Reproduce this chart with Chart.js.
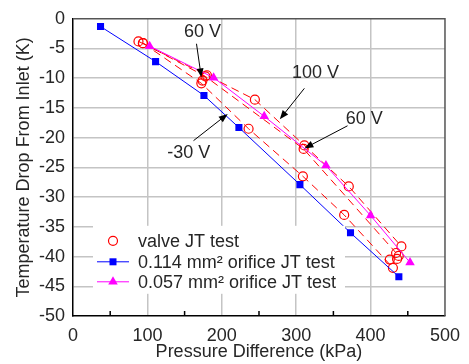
<!DOCTYPE html>
<html>
<head>
<meta charset="utf-8">
<script src="https://cdn.jsdelivr.net/npm/chart.js@4.4.0/dist/chart.umd.min.js"></script>
<style>
html, body { margin: 0; padding: 0; background: #fff; }
#wrap { width: 469px; height: 364px; }
</style>
</head>
<body>
<div id="wrap"><canvas id="jt"></canvas></div>
<script>
// valve JT test runs, [pressure difference kPa, temperature drop K]
const valveMinus30 = [[94,-4.1],[172.5,-10.85],[236,-18.5],[309,-26.5],[364.5,-33.0],[430,-41.9]];
const valve60 = [[94,-4.1],[178,-9.7],[310,-21.9],[434.3,-39.4]];
const valve100 = [[88,-3.8],[180,-9.5],[244.5,-13.6],[311,-21.3],[370.7,-28.2],[441.4,-38.3]];
const valveLoose = [[174,-10.4],[435.6,-40.4],[437.8,-39.9],[425.8,-40.5]];
// orifice tests
const orifice114 = [[37,-1.3],[111,-7.2],[176,-12.9],[223,-18.3],[305,-27.9],[373,-36.0],[438,-43.4]];
const orifice057 = [[103,-4.6],[189,-9.9],[257,-16.4],[340,-24.7],[400,-33.1],[453,-41.0]];

const legendNames = ['valve JT test', '0.114 mm\u00b2 orifice JT test', '0.057 mm\u00b2 orifice JT test'];

// voltage notes: label, label position, arrow start, arrow tip (data units)
const noteText = ['60 V', '-30 V', '100 V', '60 V'];
const noteAt = [[174,-2.2],[155.6,-22.6],[326,-9.2],[391.6,-16.8]];
const arrowFrom = [[166,-4.2],[162,-20.5],[311,-11.7],[369,-18.0]];
const arrowTo = [[172.5,-9.85],[208,-16.0],[278,-16.9],[311,-21.8]];

const RED = '#ff0000', BLUE = '#0000ff', MAG = '#ff00ff';
const txtColor = '#262626';

const pts = (arr) => arr.map(p => ({x: p[0], y: p[1]}));

function valveSet(arr, lineOn) {
  return {
    label: '',
    data: pts(arr),
    showLine: lineOn,
    order: 2,
    borderColor: RED,
    borderWidth: 1,
    borderDash: [8, 5],
    pointStyle: 'circle',
    pointRadius: 4.5,
    pointBorderWidth: 1.2,
    pointBorderColor: RED,
    pointBackgroundColor: 'rgba(0,0,0,0)',
  };
}

Chart.defaults.font.family = '"Liberation Sans", Arial, sans-serif';
Chart.defaults.font.size = 18;
Chart.defaults.color = txtColor;

function arrow(ctx, x0, y0, x1, y1) {
  const a = Math.atan2(y1 - y0, x1 - x0);
  const L = 9, W = 3.5;
  ctx.beginPath();
  ctx.moveTo(x0, y0);
  ctx.lineTo(x1 - Math.cos(a) * L * 0.8, y1 - Math.sin(a) * L * 0.8);
  ctx.stroke();
  ctx.beginPath();
  ctx.moveTo(x1, y1);
  ctx.lineTo(x1 - Math.cos(a) * L - Math.sin(a) * W, y1 - Math.sin(a) * L + Math.cos(a) * W);
  ctx.lineTo(x1 - Math.cos(a) * L + Math.sin(a) * W, y1 - Math.sin(a) * L - Math.cos(a) * W);
  ctx.closePath();
  ctx.fill();
}

function marker(ctx, kind, x, y) {
  if (kind === 'circle') {
    ctx.strokeStyle = RED;
    ctx.lineWidth = 1.2;
    ctx.beginPath();
    ctx.arc(x, y, 4.5, 0, Math.PI * 2);
    ctx.stroke();
  } else if (kind === 'rect') {
    ctx.fillStyle = BLUE;
    ctx.fillRect(x - 3.5, y - 3.5, 7, 7);
  } else {
    const r = 5.5;
    ctx.fillStyle = MAG;
    ctx.beginPath();
    ctx.moveTo(x, y - r);
    ctx.lineTo(x + r * 0.866, y + r * 0.5);
    ctx.lineTo(x - r * 0.866, y + r * 0.5);
    ctx.closePath();
    ctx.fill();
  }
}

const decor = {
  id: 'decor',
  afterDatasetsDraw(chart) {
    const {ctx, chartArea: a, scales: {x, y}} = chart;
    ctx.save();
    // frame: top and right edges
    ctx.strokeStyle = '#555';
    ctx.lineWidth = 1.5;
    ctx.beginPath();
    ctx.moveTo(a.left, a.top);
    ctx.lineTo(a.right, a.top);
    ctx.lineTo(a.right, a.bottom);
    ctx.stroke();
    // inner minor ticks on bottom axis
    ctx.strokeStyle = '#000';
    ctx.lineWidth = 1.5;
    for (let v = 50; v < 500; v += 100) {
      const px = x.getPixelForValue(v);
      ctx.beginPath();
      ctx.moveTo(px, a.bottom);
      ctx.lineTo(px, a.bottom - 5);
      ctx.stroke();
    }
    // voltage notes
    ctx.fillStyle = txtColor;
    ctx.font = '18px "Liberation Sans", Arial, sans-serif';
    ctx.textAlign = 'center';
    ctx.textBaseline = 'middle';
    noteText.forEach((t, i) => {
      ctx.fillText(t, x.getPixelForValue(noteAt[i][0]), y.getPixelForValue(noteAt[i][1]));
    });
    ctx.strokeStyle = '#000';
    ctx.fillStyle = '#000';
    ctx.lineWidth = 1;
    arrowFrom.forEach((f, i) => {
      arrow(ctx, x.getPixelForValue(f[0]), y.getPixelForValue(f[1]),
        x.getPixelForValue(arrowTo[i][0]), y.getPixelForValue(arrowTo[i][1]));
    });
    ctx.restore();
  },
  afterDraw(chart) {
    const {ctx, chartArea: a} = chart;
    const bx = a.left + 20, by = a.top + 207, bw = 252, bh = 68;
    ctx.save();
    ctx.fillStyle = '#fff';
    ctx.fillRect(bx, by, bw, bh);
    const kinds = ['circle', 'rect', 'triangle'];
    const cols = [null, BLUE, MAG];
    const rows = [15, 36, 56];
    ctx.font = '18px "Liberation Sans", Arial, sans-serif';
    ctx.textBaseline = 'middle';
    ctx.textAlign = 'left';
    legendNames.forEach((name, i) => {
      const cy = by + rows[i];
      if (cols[i]) {
        ctx.strokeStyle = cols[i];
        ctx.lineWidth = 1;
        ctx.beginPath();
        ctx.moveTo(bx + 4, cy);
        ctx.lineTo(bx + 36, cy);
        ctx.stroke();
      }
      marker(ctx, kinds[i], bx + 20, cy);
      ctx.fillStyle = txtColor;
      ctx.fillText(name, bx + 45, cy + 1);
    });
    ctx.restore();
  }
};

new Chart(document.getElementById('jt'), {
  type: 'scatter',
  data: {
    datasets: [
      valveSet(valveMinus30, true),
      valveSet(valve60, true),
      valveSet(valve100, true),
      valveSet(valveLoose, false),
      {
        label: '',
        data: pts(orifice114),
        showLine: true,
        order: 1,
        borderColor: BLUE,
        borderWidth: 1,
        pointStyle: 'rect',
        pointRadius: 5,
        pointBackgroundColor: BLUE,
        pointBorderColor: BLUE,
        pointBorderWidth: 0,
      },
      {
        label: '',
        data: pts(orifice057),
        showLine: true,
        order: 1,
        borderColor: MAG,
        borderWidth: 1,
        pointStyle: 'triangle',
        pointRadius: 5.5,
        pointBackgroundColor: MAG,
        pointBorderColor: MAG,
        pointBorderWidth: 0,
      },
    ],
  },
  options: {
    responsive: true,
    maintainAspectRatio: false,
    animation: false,
    layout: { padding: { top: 13, right: 21, left: 0, bottom: 0 } },
    plugins: { legend: { display: false }, tooltip: { enabled: false } },
    scales: {
      x: {
        type: 'linear',
        min: 0,
        max: 500,
        afterFit: (s) => { s.height = 48; },
        ticks: {
          stepSize: 50,
          padding: 9,
          autoSkip: false,
          maxRotation: 0,
          callback: (v) => (v % 100 === 0 ? v : ''),
        },
        grid: {
          drawTicks: false,
          lineWidth: 1.5,
          color: (c) => (c.tick && c.tick.value % 100 === 0 && c.tick.value > 0 && c.tick.value < 500 ? '#c4c4c4' : 'rgba(0,0,0,0)'),
        },
        border: { color: '#000', width: 1.5 },
        title: { display: true, text: 'Pressure Difference (kPa)', padding: { top: 0, bottom: 1 } },
      },
      y: {
        type: 'linear',
        min: -50,
        max: 0,
        afterFit: (s) => { s.width = 73; },
        ticks: { stepSize: 5, padding: 8 },
        grid: {
          drawTicks: false,
          lineWidth: 1.5,
          color: (c) => (c.tick && c.tick.value > -50 && c.tick.value < 0 ? '#c4c4c4' : 'rgba(0,0,0,0)'),
        },
        border: { color: '#000', width: 1.5 },
        title: { display: true, text: 'Temperature Drop From Inlet (K)', padding: { top: 13, bottom: 0 } },
      },
    },
  },
  plugins: [decor],
});
</script>
</body>
</html>
